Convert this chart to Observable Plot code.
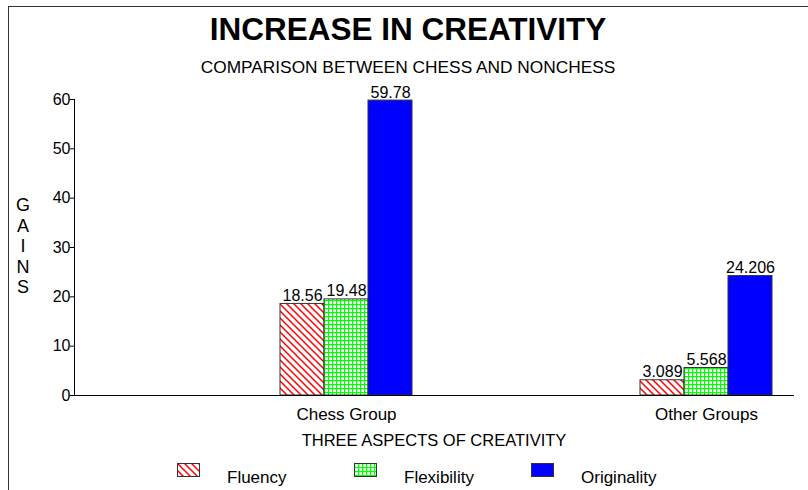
<!DOCTYPE html>
<html><head><meta charset="utf-8">
<script src="https://cdn.jsdelivr.net/npm/d3@7"></script>
<script src="https://cdn.jsdelivr.net/npm/@observablehq/plot@0.6"></script>
<style>
html,body{margin:0;padding:0;background:#fff;}
body{width:808px;height:490px;position:relative;overflow:hidden;font-family:"Liberation Sans",Arial,sans-serif;color:#000;}
#frame{position:absolute;left:8px;top:6px;width:820px;height:500px;border-top:1.5px solid #333;border-left:1.5px solid #333;}
.abs{position:absolute;white-space:nowrap;}
#title{left:8px;width:800px;top:14px;text-align:center;font-weight:bold;font-size:31.5px;line-height:31px;}
#subtitle{left:8px;width:800px;top:59px;text-align:center;font-size:17.3px;line-height:17px;}
#ylabel{left:13px;width:20px;top:195px;text-align:center;font-size:18px;line-height:20.5px;white-space:normal;}
#chart{position:absolute;left:0;top:80px;}
#chart g[aria-label="y-axis tick"], #chart g[aria-label="y-axis line"]{stroke:#777;}
#xlabel{left:234px;width:400px;top:432px;text-align:center;font-size:16.5px;line-height:16.5px;}
#legend{left:177px;top:463px;display:flex;}
.item{width:177px;display:flex;align-items:flex-start;font-size:17px;line-height:17px;}
.item svg{margin-right:27px;flex:none;}
.item span{position:relative;top:5.6px;}
</style></head><body>
<svg width="0" height="0" style="position:absolute">
  <defs>
    <pattern id="hatch" patternUnits="userSpaceOnUse" width="7" height="7">
      <rect width="7" height="7" fill="#fff"/>
      <path d="M-1,-1L8,8M-1,6L1,8M6,-1L8,1" stroke="#ff0000" stroke-width="1.5"/>
    </pattern>
    <pattern id="grid" patternUnits="userSpaceOnUse" width="4" height="4">
      <rect width="4" height="4" fill="#fff"/>
      <rect x="0" y="0" width="4" height="1.2" fill="#00ff00"/>
      <rect x="0" y="0" width="1.2" height="4" fill="#00ff00"/>
    </pattern>
  </defs>
</svg>
<div id="frame"></div>
<div id="title" class="abs">INCREASE IN CREATIVITY</div>
<div id="subtitle" class="abs">COMPARISON BETWEEN CHESS AND NONCHESS</div>
<div id="ylabel" class="abs"></div>
<div id="chart"></div>
<div id="xlabel" class="abs">THREE ASPECTS OF CREATIVITY</div>
<div id="legend" class="abs"></div>
<script>
const groups = ["Chess Group", "Other Groups"];
const aspects = ["Fluency", "Flexibility", "Originality"];
const chessGains = [18.56, 19.48, 59.78];
const otherGains = [3.089, 5.568, 24.206];
const yTicks = [0, 10, 20, 30, 40, 50, 60];
const yLabel = "GAINS";
const aspectFills = ["url(#hatch)", "url(#grid)", "#0000ff"];

const data = groups.flatMap((g, gi) =>
  aspects.map((a, ai) => ({group: g, aspect: a, gain: (gi === 0 ? chessGains : otherGains)[ai]})));

const chart = Plot.plot({
  width: 808, height: 370,
  marginLeft: 74, marginRight: 14, marginTop: 19, marginBottom: 55,
  style: {fontFamily: "Liberation Sans, Arial, sans-serif", fontSize: "16px", color: "black", background: "transparent", overflow: "visible"},
  fx: {domain: groups, padding: 0, axis: null},
  x: {domain: aspects, paddingInner: 0, paddingOuter: 2.53, align: 0.904, axis: null},
  y: {domain: [0, 60], ticks: yTicks, tickSize: 4, tickPadding: 0, line: true, label: null},
  color: {domain: aspects, range: aspectFills},
  marks: [
    Plot.barY(data, {fx: "group", x: "aspect", y: "gain", fill: "aspect", stroke: "#333", strokeWidth: 1}),
    Plot.text(data, {fx: "group", x: "aspect", y: "gain", text: d => String(d.gain), lineAnchor: "bottom", dy: -3}),
    Plot.text(data.filter(d => d.aspect === aspects[1]), {fx: "group", x: "aspect", y: 0, text: "group", lineAnchor: "top", dy: 12, fontSize: 17}),
    Plot.ruleY([0], {stroke: "black"})
  ]
});
document.getElementById("chart").appendChild(chart);

document.getElementById("ylabel").innerHTML = yLabel.split("").join("<br>");

const color = chart.scale("color");
const legend = d3.select("#legend");
aspects.forEach((a, i) => {
  const item = legend.append("div").attr("class", "item");
  const s = item.append("svg").attr("width", 23).attr("height", 14);
  s.append("rect").attr("x", 0.5).attr("y", 0.5).attr("width", 22).attr("height", 13)
    .attr("fill", aspectFills[color.domain.indexOf(a)]).attr("stroke", "#333");
  item.append("span").text(a);
});
</script>
</body></html>
